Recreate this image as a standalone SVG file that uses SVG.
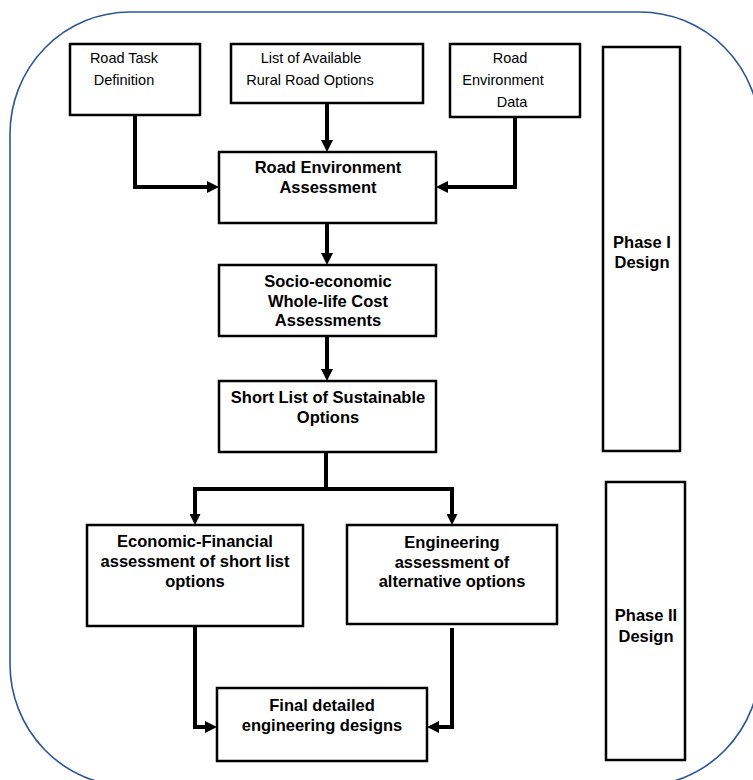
<svg xmlns="http://www.w3.org/2000/svg" width="753" height="780" viewBox="0 0 753 780">
  <style>
    .box { fill: #ffffff; stroke: #000000; stroke-width: 2.5; }
    .frame { fill: none; stroke: #2F5597; stroke-width: 1.6; }
    .link { fill: none; stroke: #000000; stroke-width: 4; stroke-linejoin: miter; }
    .t { font-family: "Liberation Sans", Arial, sans-serif; font-size: 14.5px; fill: #000000; }
    .b { font-family: "Liberation Sans", Arial, sans-serif; font-size: 16.5px; font-weight: bold; fill: #000000; text-anchor: middle; }
  </style>
  <defs>
    <marker id="head" markerUnits="userSpaceOnUse" markerWidth="12" markerHeight="12" refX="0" refY="6" orient="auto">
      <path d="M0,0 L12,6 L0,12 Z" fill="#000000"/>
    </marker>
    <marker id="headSmall" markerUnits="userSpaceOnUse" markerWidth="11" markerHeight="11" refX="0" refY="5.5" orient="auto">
      <path d="M0,0 L11,5.5 L0,11 Z" fill="#000000"/>
    </marker>
  </defs>

  <rect width="753" height="780" fill="#ffffff"/>

  <!-- outer rounded frame -->
  <rect class="frame" x="10" y="12" width="750" height="774" rx="120" ry="122"/>

  <!-- connectors -->
  <g id="connectors">
    <path class="link" d="M135,115 V187 H207" marker-end="url(#head)"/>
    <path class="link" d="M327,103 V140" marker-end="url(#head)"/>
    <path class="link" d="M515,117 V187 H448" marker-end="url(#head)"/>
    <path class="link" d="M327,223 V253" marker-end="url(#head)"/>
    <path class="link" d="M327,336 V369" marker-end="url(#head)"/>
    <path class="link" d="M326,452 V489"/>
    <path class="link" d="M326,489 H195 V514" marker-end="url(#headSmall)"/>
    <path class="link" d="M326,489 H452 V514" marker-end="url(#headSmall)"/>
    <path class="link" d="M195,626 V727 H205" marker-end="url(#head)"/>
    <path class="link" d="M452,628 V727 H439" marker-end="url(#head)"/>
  </g>

  <!-- input boxes -->
  <g id="road-task-definition">
    <rect class="box" x="70" y="44" width="130" height="71"/>
    <text class="t" x="124" y="63" text-anchor="middle">Road Task</text>
    <text class="t" x="124" y="85" text-anchor="middle">Definition</text>
  </g>
  <g id="available-options">
    <rect class="box" x="231" y="44" width="192" height="59"/>
    <text class="t" x="311" y="63" text-anchor="middle">List of Available</text>
    <text class="t" x="310" y="85" text-anchor="middle">Rural Road Options</text>
  </g>
  <g id="road-environment-data">
    <rect class="box" x="450" y="44" width="130" height="73"/>
    <text class="t" x="510" y="63" text-anchor="middle">Road</text>
    <text class="t" x="503" y="85" text-anchor="middle">Environment</text>
    <text class="t" x="512" y="107" text-anchor="middle">Data</text>
  </g>

  <!-- main chain -->
  <g id="road-environment-assessment">
    <rect class="box" x="219" y="152" width="217" height="71"/>
    <text class="b" x="328" y="173">Road Environment</text>
    <text class="b" x="328" y="193">Assessment</text>
  </g>
  <g id="socio-economic">
    <rect class="box" x="219" y="265" width="217" height="71"/>
    <text class="b" x="328" y="287">Socio-economic</text>
    <text class="b" x="328" y="307">Whole-life Cost</text>
    <text class="b" x="328" y="326">Assessments</text>
  </g>
  <g id="short-list">
    <rect class="box" x="219" y="381" width="217" height="71"/>
    <text class="b" x="328" y="403">Short List of Sustainable</text>
    <text class="b" x="328" y="423">Options</text>
  </g>
  <g id="economic-financial">
    <rect class="box" x="87" y="525" width="216" height="101"/>
    <text class="b" x="195" y="547">Economic-Financial</text>
    <text class="b" x="195" y="567">assessment of short list</text>
    <text class="b" x="195" y="587">options</text>
  </g>
  <g id="engineering-assessment">
    <rect class="box" x="347" y="525" width="210" height="99"/>
    <text class="b" x="452" y="548">Engineering</text>
    <text class="b" x="452" y="568">assessment of</text>
    <text class="b" x="452" y="587">alternative options</text>
  </g>
  <g id="final-designs">
    <rect class="box" x="217" y="688" width="210" height="73"/>
    <text class="b" x="322" y="711">Final detailed</text>
    <text class="b" x="322" y="731">engineering designs</text>
  </g>

  <!-- phase bars -->
  <g id="phase-1">
    <rect class="box" x="603" y="47" width="77" height="404"/>
    <text class="b" x="642" y="248">Phase I</text>
    <text class="b" x="642" y="268">Design</text>
  </g>
  <g id="phase-2">
    <rect class="box" x="606" y="482" width="79" height="278"/>
    <text class="b" x="646" y="621">Phase II</text>
    <text class="b" x="646" y="642">Design</text>
  </g>
</svg>
